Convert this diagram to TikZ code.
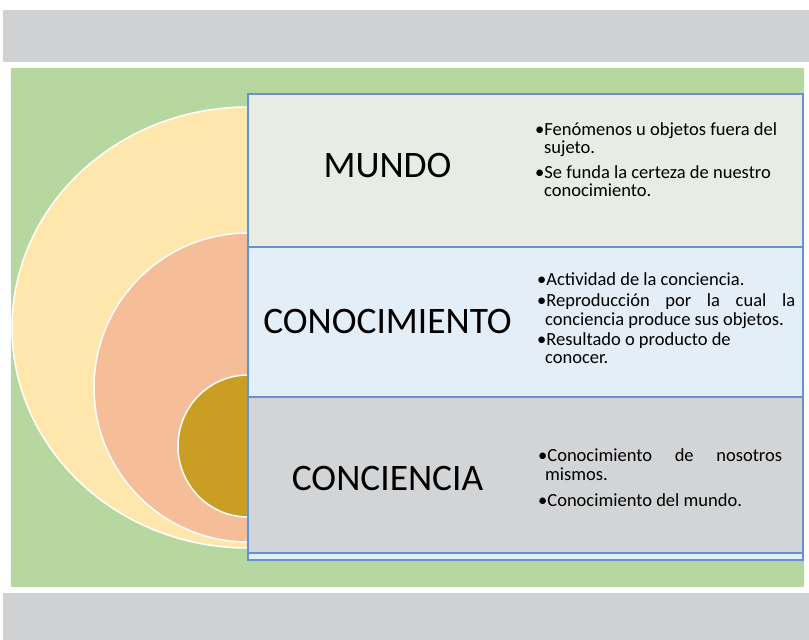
\documentclass[tikz,border=0pt]{standalone}
\usepackage{fontspec}
\setmainfont{Carlito}
\usepackage{tikz}
\usetikzlibrary{positioning}
\definecolor{bandgray}{RGB}{208,209,211}
\definecolor{bggreen}{RGB}{183,215,160}
\definecolor{ringyellow}{RGB}{254,230,172}
\definecolor{ringsalmon}{RGB}{245,190,152}
\definecolor{ringgold}{RGB}{201,158,34}
\definecolor{mundofill}{RGB}{231,236,229}
\definecolor{conocfill}{RGB}{227,238,246}
\definecolor{concfill}{RGB}{211,212,214}
\definecolor{boxblue}{RGB}{104,145,210}
\tikzstyle{titletext} = [anchor=base, inner sep=0pt, font=\fontsize{37.4}{40}\selectfont]
\tikzstyle{itemtext} = [anchor=base west, inner sep=0pt, font=\fontsize{18.5}{20}\selectfont]
\tikzstyle{ring} = [draw=white, line width=1.5pt]
\tikzstyle{box} = [draw=boxblue, line width=1.5pt]

\begin{document}
\begin{tikzpicture}[x=1pt,y=-1pt]
\useasboundingbox (0,0) rectangle (809,640);

% Background bands
\fill[bandgray] (3,10) rectangle (809,62);
\fill[bggreen] (11,68) rectangle (804,587);
\fill[bandgray] (3,593) rectangle (809,640);

% Rings
\filldraw[ring,fill=ringyellow] (248,327.5) ellipse [x radius=236, y radius=220.5]; % mundo
\filldraw[ring,fill=ringsalmon] (248,387.5) ellipse [x radius=154, y radius=154.5]; % conocimiento
\filldraw[ring,fill=ringgold] (248,446) ellipse [x radius=70, y radius=71]; % conciencia

% Boxes
\filldraw[box,fill=mundofill] (248,94) rectangle (803,247);
\filldraw[box,fill=conocfill] (248,247) rectangle (803,397);
\filldraw[box,fill=concfill] (248,397) rectangle (803,553);
\filldraw[box,fill=conocfill] (248,553) rectangle (803,560);

% Titles
\node[titletext] (mundo) at (387.5,177) {MUNDO};
\node[titletext] (conocimiento) at (387.5,333) {CONOCIMIENTO};
\node[titletext] (conciencia) at (387.5,490) {CONCIENCIA};

% Mundo items
\node[itemtext] (m1) at (535,135) {•Fenómenos u objetos fuera del};
\node[itemtext] (m2) at (544,153) {sujeto.};
\node[itemtext] (m3) at (535,178) {•Se funda la certeza de nuestro};
\node[itemtext] (m4) at (544,196) {conocimiento.};

% Conocimiento items
\node[itemtext] (k1) at (537,285) {•Actividad de la conciencia.};
\node[itemtext] (k2) at (537,306) {\makebox[258pt][s]{•Reproducción por la cual la}};
\node[itemtext] (k3) at (545,325) {conciencia produce sus objetos.};
\node[itemtext] (k4) at (537,345) {•Resultado o producto de};
\node[itemtext] (k5) at (545,363) {conocer.};

% Conciencia items
\node[itemtext] (c1) at (538,461) {\makebox[244pt][s]{•Conocimiento de nosotros}};
\node[itemtext] (c2) at (545,480) {mismos.};
\node[itemtext] (c3) at (538,506) {•Conocimiento del mundo.};
\end{tikzpicture}
\end{document}
